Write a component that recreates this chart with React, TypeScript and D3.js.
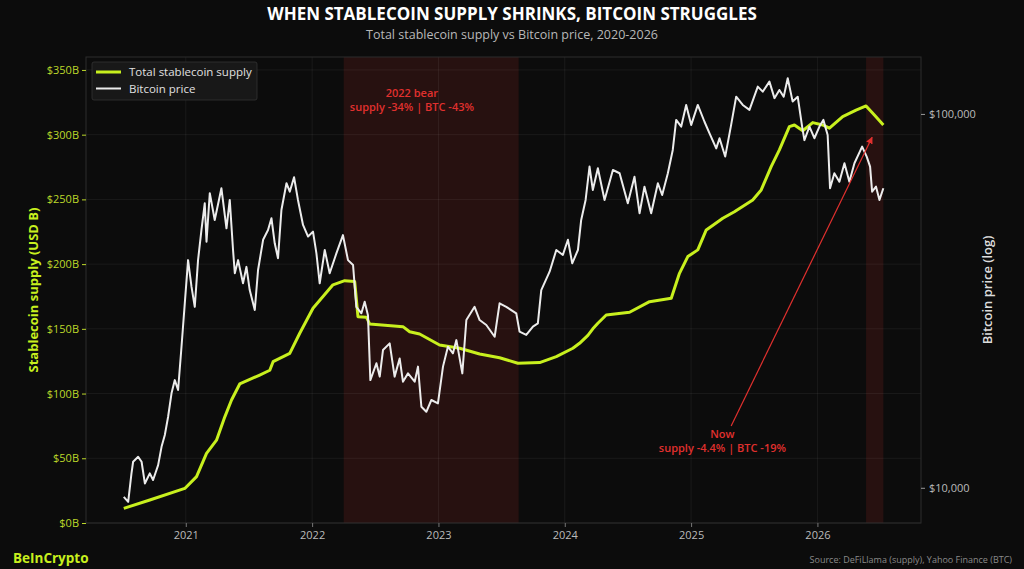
import React, { useEffect, useRef } from "react";
import * as d3 from "d3";

// time in decimal years, supply in USD billions, price in USD
const supplyT = [
  2020.509, 2020.715, 2020.992, 2021.085, 2021.164, 2021.243, 2021.309, 2021.362, 2021.427,
  2021.585, 2021.665, 2021.691, 2021.823, 2021.902, 2022.007, 2022.165, 2022.258, 2022.337,
  2022.363, 2022.43, 2022.456, 2022.719, 2022.772, 2022.851, 2023.009, 2023.168, 2023.326,
  2023.484, 2023.629, 2023.801, 2023.933, 2024.064, 2024.117, 2024.183, 2024.222, 2024.262,
  2024.328, 2024.513, 2024.671, 2024.843, 2024.908, 2024.974, 2025.053, 2025.12, 2025.251,
  2025.343, 2025.488, 2025.555, 2025.634, 2025.699, 2025.778, 2025.818, 2025.884, 2025.963,
  2026.042, 2026.095, 2026.2, 2026.306, 2026.385, 2026.451, 2026.522,
];
const supplyB = [
  11.3, 17.8, 26.7, 35.8, 53.8, 64, 82, 95, 107.4,
  114.3, 118, 124.6, 131, 146.6, 165.9, 184, 187.2, 186.5,
  159.4, 159, 153.7, 151.7, 147.8, 146, 137.5, 135, 130.6,
  127.7, 123.4, 123.9, 128.5, 135, 138.8, 145, 150, 154.3,
  160.7, 162.8, 171, 173.6, 192.9, 205.8, 211, 226.4, 235.4,
  240.5, 249.6, 257.3, 275.3, 288.2, 306.2, 307.5, 303, 309.3,
  307.5, 305, 314, 319, 322.2, 315.2, 307.5,
];

const btcT = [
  2020.509, 2020.544, 2020.57, 2020.583, 2020.623, 2020.65, 2020.676, 2020.715, 2020.741, 2020.781,
  2020.808, 2020.834, 2020.86, 2020.887, 2020.913, 2020.939, 2020.966, 2020.992, 2021.018, 2021.045,
  2021.071, 2021.097, 2021.124, 2021.15, 2021.164, 2021.19, 2021.229, 2021.282, 2021.322, 2021.348,
  2021.374, 2021.388, 2021.414, 2021.453, 2021.48, 2021.506, 2021.546, 2021.572, 2021.612, 2021.651,
  2021.678, 2021.704, 2021.73, 2021.757, 2021.797, 2021.823, 2021.857, 2021.888, 2021.928, 2021.968,
  2022.007, 2022.034, 2022.06, 2022.1, 2022.139, 2022.192, 2022.244, 2022.284, 2022.324, 2022.35,
  2022.39, 2022.416, 2022.442, 2022.461, 2022.509, 2022.535, 2022.561, 2022.614, 2022.653, 2022.693,
  2022.719, 2022.759, 2022.812, 2022.838, 2022.865, 2022.904, 2022.944, 2022.996, 2023.036, 2023.075,
  2023.115, 2023.142, 2023.189, 2023.221, 2023.286, 2023.326, 2023.379, 2023.445, 2023.484, 2023.537,
  2023.616, 2023.642, 2023.695, 2023.748, 2023.787, 2023.814, 2023.88, 2023.933, 2023.985, 2024.025,
  2024.059, 2024.104, 2024.13, 2024.165, 2024.196, 2024.222, 2024.262, 2024.315, 2024.381, 2024.434,
  2024.499, 2024.552, 2024.592, 2024.631, 2024.684, 2024.737, 2024.771, 2024.816, 2024.855, 2024.882,
  2024.922, 2024.961, 2025.001, 2025.053, 2025.106, 2025.146, 2025.199, 2025.225, 2025.27, 2025.317,
  2025.357, 2025.409, 2025.462, 2025.528, 2025.567, 2025.62, 2025.66, 2025.699, 2025.733, 2025.765,
  2025.804, 2025.844, 2025.879, 2025.897, 2025.937, 2025.976, 2026.016, 2026.047, 2026.081, 2026.1,
  2026.134, 2026.174, 2026.214, 2026.253, 2026.293, 2026.354, 2026.39, 2026.417, 2026.433, 2026.464,
  2026.491, 2026.522,
];
const btcP = [
  9460, 9170, 10930, 11740, 12100, 11740, 10270, 10930, 10490, 11500,
  12870, 13840, 15490, 17890, 19410, 18260, 23840, 31150, 40640, 34510,
  30480, 40640, 48930, 57680, 45500, 61390, 52050, 63270, 49420, 58880,
  43250, 37480, 40640, 35240, 38990, 33800, 29890, 38240, 46060, 48930,
  52600, 45080, 41100, 55340, 65260, 61950, 67700, 58880, 50470, 46990,
  48440, 42360, 35240, 43250, 37480, 42360, 47400, 40640, 39430, 30480,
  29290, 31460, 28960, 19410, 21530, 19830, 23360, 24340, 19830, 22180,
  19220, 20230, 19220, 21090, 16470, 15970, 17170, 16820, 21090, 23840,
  22890, 24830, 20230, 28100, 30480, 28100, 27250, 25350, 31150, 30480,
  29290, 26160, 25630, 26980, 27540, 33800, 37850, 43250, 41960, 46060,
  39860, 43250, 52050, 58880, 72300, 62600, 71600, 58880, 70800, 69400,
  57680, 67900, 54250, 63900, 54250, 65260, 60700, 69400, 80100, 96400,
  92500, 105700, 93460, 105700, 95300, 88700, 80900, 86100, 76900, 93460,
  111200, 105700, 102500, 118300, 114700, 122000, 110200, 115900, 111200, 124600,
  107900, 111200, 92500, 85100, 92500, 86100, 92500, 96400, 87870, 63270,
  69400, 65900, 73800, 65900, 73800, 81760, 76900, 72300, 61950, 63900,
  58880, 63270,
];

const yearTicks = [2021, 2022, 2023, 2024, 2025, 2026];
const supplyTicks = [0, 50, 100, 150, 200, 250, 300, 350];
const priceTicks = [10000, 100000];

// shaded periods [start, end] in decimal years
const bearPeriod = [2022.25, 2023.635];
const nowPeriod = [2026.385, 2026.522];

const App = () => {
  const chartRef = useRef(null);

  useEffect(() => {
    document.body.style.margin = "0";
    document.body.style.background = "#0c0c0c";

    const width = 1024;
    const height = 569;
    const plot = { left: 86, right: 921, top: 57, bottom: 523 };
    const font = "'Open Sans', 'DejaVu Sans', sans-serif";
    const lime = "#c8f01e";
    const limeText = "#bcd82a";
    const red = "#e0302e";

    d3.select(chartRef.current).selectAll("*").remove();

    const svg = d3
      .select(chartRef.current)
      .append("svg")
      .attr("width", width)
      .attr("height", height)
      .style("display", "block")
      .style("font-family", font);

    svg.append("rect").attr("width", width).attr("height", height).attr("fill", "#0c0c0c");

    // Scales
    const x = d3.scaleLinear().domain([2020.21, 2026.82]).range([plot.left, plot.right]);
    const yL = d3.scaleLinear().domain([0, 360]).range([plot.bottom, plot.top]);
    const yR = d3.scaleLog().domain([8050, 142000]).range([plot.bottom, plot.top]);

    // Shaded periods
    [bearPeriod, nowPeriod].forEach((p) => {
      svg
        .append("rect")
        .attr("x", x(p[0]))
        .attr("y", plot.top)
        .attr("width", x(p[1]) - x(p[0]))
        .attr("height", plot.bottom - plot.top)
        .attr("fill", "#c0302b")
        .attr("fill-opacity", 0.15);
    });

    // Grid
    const grid = svg.append("g").attr("stroke", "#ffffff").attr("stroke-opacity", 0.06);
    supplyTicks.forEach((t) => {
      grid.append("line").attr("x1", plot.left).attr("x2", plot.right).attr("y1", yL(t)).attr("y2", yL(t));
    });
    yearTicks.forEach((t) => {
      grid.append("line").attr("x1", x(t)).attr("x2", x(t)).attr("y1", plot.top).attr("y2", plot.bottom);
    });

    // Frame
    svg
      .append("rect")
      .attr("x", plot.left)
      .attr("y", plot.top)
      .attr("width", plot.right - plot.left)
      .attr("height", plot.bottom - plot.top)
      .attr("fill", "none")
      .attr("stroke", "#2c2c2c")
      .attr("stroke-width", 1);

    // Axes
    const xAxis = svg
      .append("g")
      .attr("transform", `translate(0,${plot.bottom})`)
      .call(d3.axisBottom(x).tickValues(yearTicks).tickFormat(d3.format("d")).tickSize(4).tickPadding(4));
    xAxis.select(".domain").remove();
    xAxis.selectAll("line").attr("stroke", "#777");
    xAxis.selectAll("text").attr("fill", "#bbbbbb").attr("font-size", 11).attr("font-family", font);

    const leftAxis = svg
      .append("g")
      .attr("transform", `translate(${plot.left},0)`)
      .call(d3.axisLeft(yL).tickValues(supplyTicks).tickFormat((d) => `$${d}B`).tickSize(4).tickPadding(3));
    leftAxis.select(".domain").remove();
    leftAxis.selectAll("line").attr("stroke", limeText);
    leftAxis.selectAll("text").attr("fill", limeText).attr("font-size", 11).attr("font-family", font);

    const rightAxis = svg
      .append("g")
      .attr("transform", `translate(${plot.right},0)`)
      .call(d3.axisRight(yR).tickValues(priceTicks).tickFormat((d) => `$${d3.format(",")(d)}`).tickSize(4).tickPadding(4));
    rightAxis.select(".domain").remove();
    rightAxis.selectAll("line").attr("stroke", "#999");
    rightAxis.selectAll("text").attr("fill", "#bbbbbb").attr("font-size", 11).attr("font-family", font);

    // Axis labels
    svg
      .append("text")
      .attr("transform", `translate(38,${(plot.top + plot.bottom) / 2}) rotate(-90)`)
      .attr("text-anchor", "middle")
      .attr("fill", lime)
      .attr("font-size", 13)
      .attr("font-weight", 700)
      .text("Stablecoin supply (USD B)");

    svg
      .append("text")
      .attr("transform", `translate(992,${(plot.top + plot.bottom) / 2}) rotate(-90)`)
      .attr("text-anchor", "middle")
      .attr("fill", "#dddddd")
      .attr("font-size", 13)
      .attr("font-weight", 600)
      .text("Bitcoin price (log)");

    // Lines
    const supplyData = supplyT.map((t, i) => [t, supplyB[i]]);
    const btcData = btcT.map((t, i) => [t, btcP[i]]);

    const supplyLine = d3
      .line()
      .x((d) => x(d[0]))
      .y((d) => yL(d[1]));

    const btcLine = d3
      .line()
      .x((d) => x(d[0]))
      .y((d) => yR(d[1]));

    svg
      .append("path")
      .datum(supplyData)
      .attr("fill", "none")
      .attr("stroke", lime)
      .attr("stroke-width", 3)
      .attr("stroke-linejoin", "round")
      .attr("d", supplyLine);

    svg
      .append("path")
      .datum(btcData)
      .attr("fill", "none")
      .attr("stroke", "#ececec")
      .attr("stroke-width", 2)
      .attr("stroke-linejoin", "round")
      .attr("d", btcLine);

    // Annotations
    const bear = svg.append("text").attr("text-anchor", "middle").attr("fill", red).attr("font-size", 11).attr("font-weight", 600);
    bear.append("tspan").attr("x", x(2022.79)).attr("y", yL(329)).text("2022 bear");
    bear.append("tspan").attr("x", x(2022.79)).attr("y", yL(329) + 14).text("supply -34% | BTC -43%");

    const now = svg.append("text").attr("text-anchor", "middle").attr("fill", red).attr("font-size", 11).attr("font-weight", 600);
    now.append("tspan").attr("x", x(2025.248)).attr("y", yL(65.7)).text("Now");
    now.append("tspan").attr("x", x(2025.248)).attr("y", yL(65.7) + 14).text("supply -4.4% | BTC -19%");

    svg
      .append("defs")
      .append("marker")
      .attr("id", "arrowhead")
      .attr("viewBox", "0 0 10 10")
      .attr("refX", 9)
      .attr("refY", 5)
      .attr("markerWidth", 7)
      .attr("markerHeight", 7)
      .attr("markerUnits", "userSpaceOnUse")
      .attr("orient", "auto")
      .append("path")
      .attr("d", "M0,0L10,5L0,10z")
      .attr("fill", red);

    svg
      .append("line")
      .attr("x1", x(2025.317))
      .attr("y1", yL(75))
      .attr("x2", x(2026.433))
      .attr("y2", yL(298))
      .attr("stroke", red)
      .attr("stroke-width", 1.2)
      .attr("marker-end", "url(#arrowhead)");

    // Legend
    const legend = svg.append("g").attr("transform", "translate(92,62)");
    legend
      .append("rect")
      .attr("width", 165)
      .attr("height", 38)
      .attr("rx", 2)
      .attr("fill", "#181818")
      .attr("stroke", "#333")
      .attr("stroke-width", 0.8);
    legend.append("line").attr("x1", 4).attr("x2", 29).attr("y1", 10).attr("y2", 10).attr("stroke", lime).attr("stroke-width", 3);
    legend.append("line").attr("x1", 4).attr("x2", 29).attr("y1", 26.5).attr("y2", 26.5).attr("stroke", "#ececec").attr("stroke-width", 2);
    legend.append("text").attr("x", 37).attr("y", 14).attr("fill", "#e0e0e0").attr("font-size", 11.5).text("Total stablecoin supply");
    legend.append("text").attr("x", 37).attr("y", 30.5).attr("fill", "#e0e0e0").attr("font-size", 11.5).text("Bitcoin price");

    // Titles
    svg
      .append("text")
      .attr("x", width / 2)
      .attr("y", 20)
      .attr("text-anchor", "middle")
      .attr("fill", "#ffffff")
      .attr("font-size", 17)
      .attr("font-weight", 700)
      .text("WHEN STABLECOIN SUPPLY SHRINKS, BITCOIN STRUGGLES");

    svg
      .append("text")
      .attr("x", width / 2)
      .attr("y", 39)
      .attr("text-anchor", "middle")
      .attr("fill", "#b8b8b8")
      .attr("font-size", 12.5)
      .text("Total stablecoin supply vs Bitcoin price, 2020-2026");

    // Footer
    svg
      .append("text")
      .attr("x", 13)
      .attr("y", 563)
      .attr("fill", lime)
      .attr("font-size", 13.5)
      .attr("font-weight", 700)
      .text("BeInCrypto");

    svg
      .append("text")
      .attr("x", 1012)
      .attr("y", 563)
      .attr("text-anchor", "end")
      .attr("fill", "#8a8a8a")
      .attr("font-size", 9)
      .text("Source: DeFiLlama (supply), Yahoo Finance (BTC)");
  }, []);

  return <div ref={chartRef}></div>;
};

export default App;
